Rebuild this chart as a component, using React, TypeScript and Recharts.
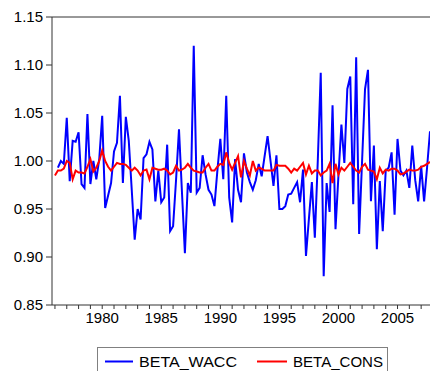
import React from "react";
import { LineChart, Line, XAxis, YAxis, ReferenceLine } from "recharts";

// Quarterly observations, first quarter = 1976Q1
const START_YEAR = 1976;
const yearTicks = [1976,1977,1978,1979,1980,1981,1982,1983,1984,1985,1986,1987,1988,1989,1990,1991,1992,1993,1994,1995,1996,1997,1998,1999,2000,2001,2002,2003,2004,2005,2006,2007];
const yTicks = [0.85, 0.9, 0.95, 1.0, 1.05, 1.1, 1.15];

// BETA_WACC starts 1976Q2
const betaWacc = [
  0.993,1.000,0.997,1.045,0.979,1.021,1.020,1.030,0.976,0.972,
  1.049,0.976,1.000,0.981,1.002,1.047,0.951,0.964,0.977,1.010,
  1.019,1.068,0.977,1.046,1.021,0.970,0.918,0.950,0.939,1.003,
  1.007,1.020,1.012,0.958,0.990,0.957,0.962,1.017,0.927,0.932,
  0.980,1.033,0.968,0.904,0.977,0.967,1.120,0.967,0.972,1.006,
  0.986,0.970,0.965,0.953,0.990,1.023,0.981,1.068,0.962,0.936,
  1.002,0.970,0.957,1.008,0.988,0.978,0.970,0.980,0.997,0.984,
  1.005,1.026,1.000,0.974,1.006,0.950,0.950,0.953,0.965,0.966,
  0.972,0.978,0.957,0.991,0.901,0.940,0.978,0.920,1.000,1.092,
  0.880,0.977,0.947,1.058,0.929,0.985,1.038,0.998,1.075,1.088,
  0.955,1.108,0.924,1.000,1.075,1.095,0.958,1.016,0.908,0.979,
  0.927,0.990,0.993,1.009,0.944,1.023,0.990,0.985,0.990,0.972,
  1.016,0.980,0.958,0.995,0.958,0.993,1.031
];

// BETA_CONS starts 1976Q1
const betaCons = [
  0.985,0.990,0.990,0.992,1.000,0.998,0.981,0.990,0.988,0.988,
  0.987,0.994,1.002,0.989,0.993,1.000,1.011,1.000,0.994,0.990,
  0.994,0.998,0.997,0.997,0.996,0.993,0.990,0.993,0.990,0.985,
  0.990,0.991,0.981,0.993,0.992,0.991,0.991,0.992,0.990,0.986,
  0.988,0.995,0.990,0.991,0.993,0.997,0.993,0.990,0.989,0.988,
  0.988,0.993,0.997,0.990,0.990,0.994,0.997,0.996,1.009,0.998,
  0.991,0.998,1.005,0.983,1.000,0.992,0.985,1.000,0.990,0.993,
  0.992,0.990,0.990,0.990,0.990,0.996,0.995,0.995,0.995,0.992,
  0.988,0.992,0.990,0.994,0.998,0.986,0.995,0.987,0.990,0.990,
  0.985,0.988,0.990,0.997,0.977,0.997,0.986,0.993,0.990,0.994,
  0.998,0.994,0.990,0.988,0.994,0.997,0.991,0.990,0.989,0.981,
  0.993,0.987,0.991,0.990,0.992,0.992,0.990,0.986,0.987,0.989,
  0.991,0.990,0.990,0.991,0.994,0.995,0.997,0.999
];

const data = betaCons.map((c, k) => ({
  t: START_YEAR + k / 4,
  cons: c,
  wacc: k === 0 ? null : betaWacc[k - 1],
}));

const FONT = "Arial, 'Liberation Sans', sans-serif";
const AXIS = "#333333";

export default function App() {
  return (
    <div style={{ position: "absolute", left: 0, top: 0, width: 430, height: 371, overflow: "hidden", background: "#fff" }}>
      <LineChart
        width={440}
        height={371}
        data={data}
        margin={{ top: 17, right: 10, bottom: 36, left: 0 }}
      >
        <XAxis
          dataKey="t"
          type="number"
          domain={[1975.75, 2007.75]}
          ticks={yearTicks}
          tickFormatter={(v: number) => (v % 5 === 0 ? String(v) : "")}
          interval={0}
          height={30}
          tickSize={4}
          tickMargin={3}
          stroke={AXIS}
          tick={{ fill: "#000", fontSize: 15, fontFamily: FONT }}
          allowDataOverflow
        />
        <YAxis
          type="number"
          domain={[0.85, 1.15]}
          ticks={yTicks}
          tickFormatter={(v: number) => v.toFixed(2)}
          width={52}
          tickSize={6}
          tickMargin={3}
          stroke={AXIS}
          tick={{ fill: "#000", fontSize: 15, fontFamily: FONT }}
          allowDataOverflow
        />
        <ReferenceLine y={1.15} stroke={AXIS} strokeWidth={1} />
        <Line
          dataKey="wacc"
          stroke="#0000ff"
          strokeWidth={2}
          dot={false}
          isAnimationActive={false}
          name="BETA_WACC"
        />
        <Line
          dataKey="cons"
          stroke="#ff0000"
          strokeWidth={2}
          dot={false}
          isAnimationActive={false}
          name="BETA_CONS"
        />
      </LineChart>
      <div
        style={{
          position: "absolute",
          left: 97,
          top: 347,
          width: 291,
          height: 30,
          border: "1px solid #808080",
          boxSizing: "border-box",
          fontFamily: FONT,
          fontSize: 15,
          color: "#000",
        }}
      >
        <svg width={291} height={30} style={{ position: "absolute", left: 0, top: 0, overflow: "visible" }}>
          <line x1={7} y1={13.5} x2={35} y2={13.5} stroke="#0000ff" strokeWidth={2} />
          <text x={41} y={19} fontSize={15} fontFamily={FONT} fill="#000" textLength={98} lengthAdjust="spacingAndGlyphs">BETA_WACC</text>
          <line x1={159} y1={13.5} x2={189} y2={13.5} stroke="#ff0000" strokeWidth={2} />
          <text x={195} y={19} fontSize={15} fontFamily={FONT} fill="#000" textLength={90} lengthAdjust="spacingAndGlyphs">BETA_CONS</text>
        </svg>
      </div>
    </div>
  );
}
